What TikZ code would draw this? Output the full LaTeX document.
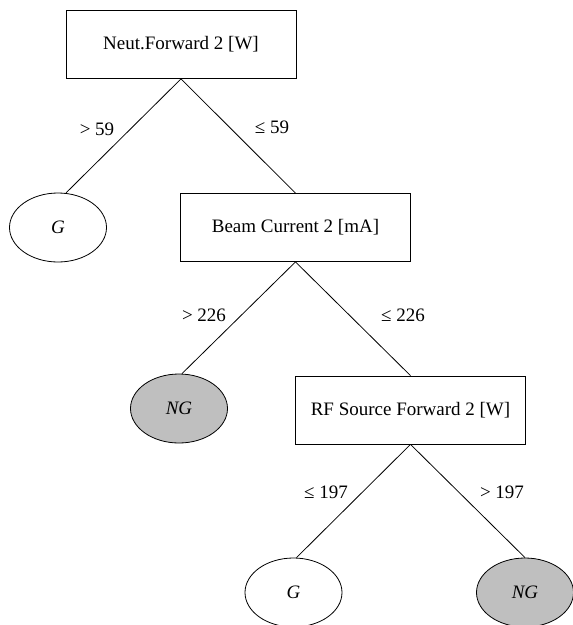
\documentclass[tikz,border=0pt]{standalone}
\usepackage{fontspec}
\setmainfont{Liberation Serif}
\usetikzlibrary{shapes.geometric}
\begin{document}
\begin{tikzpicture}[x=1pt,y=-1pt,
  every node/.style={font=\fontsize{19}{22}\selectfont},
  testbox/.style={draw, line width=0.8pt, rectangle, minimum width=230pt, minimum height=68pt, inner sep=0pt},
  leafg/.style={draw, line width=0.8pt, ellipse, minimum width=97pt, minimum height=69pt, inner sep=0pt, fill=white, font=\fontsize{19}{22}\selectfont\itshape},
  leafng/.style={leafg, fill=black!25},
  edge/.style={line width=0.8pt},
  elabel/.style={inner sep=0pt}]
\useasboundingbox (0,0) rectangle (573,625);
\node[testbox] (b1) at (181,44.5) {Neut.Forward 2 [W]};
\node[leafg] (g1) at (58,227.5) {G};
\node[testbox] (b2) at (295.5,227.5) {Beam Current 2 [mA]};
\node[leafng] (ng1) at (179,408.5) {NG};
\node[testbox] (b3) at (410.5,410) {RF Source Forward 2 [W]};
\node[leafg] (g2) at (293.5,592.5) {G};
\node[leafng] (ng2) at (525,592.5) {NG};
\draw[edge] (b1.south) -- ([xshift=8pt,yshift=-0.3pt]g1.north);
\draw[edge] (b1.south) -- (b2.north);
\draw[edge] (b2.south) -- ([xshift=3pt]ng1.north);
\draw[edge] (b2.south) -- (b3.north);
\draw[edge] (b3.south) -- ([xshift=3pt]g2.north);
\draw[edge] (b3.south) -- (ng2.north);
\node[elabel] (l1) at (97,129) {> 59};
\node[elabel] (l2) at (272,127) {≤ 59};
\node[elabel] (l3) at (204,315) {> 226};
\node[elabel] (l4) at (403,315) {≤ 226};
\node[elabel] (l5) at (326,492) {≤ 197};
\node[elabel] (l6) at (502,492) {> 197};
\end{tikzpicture}
\end{document}
